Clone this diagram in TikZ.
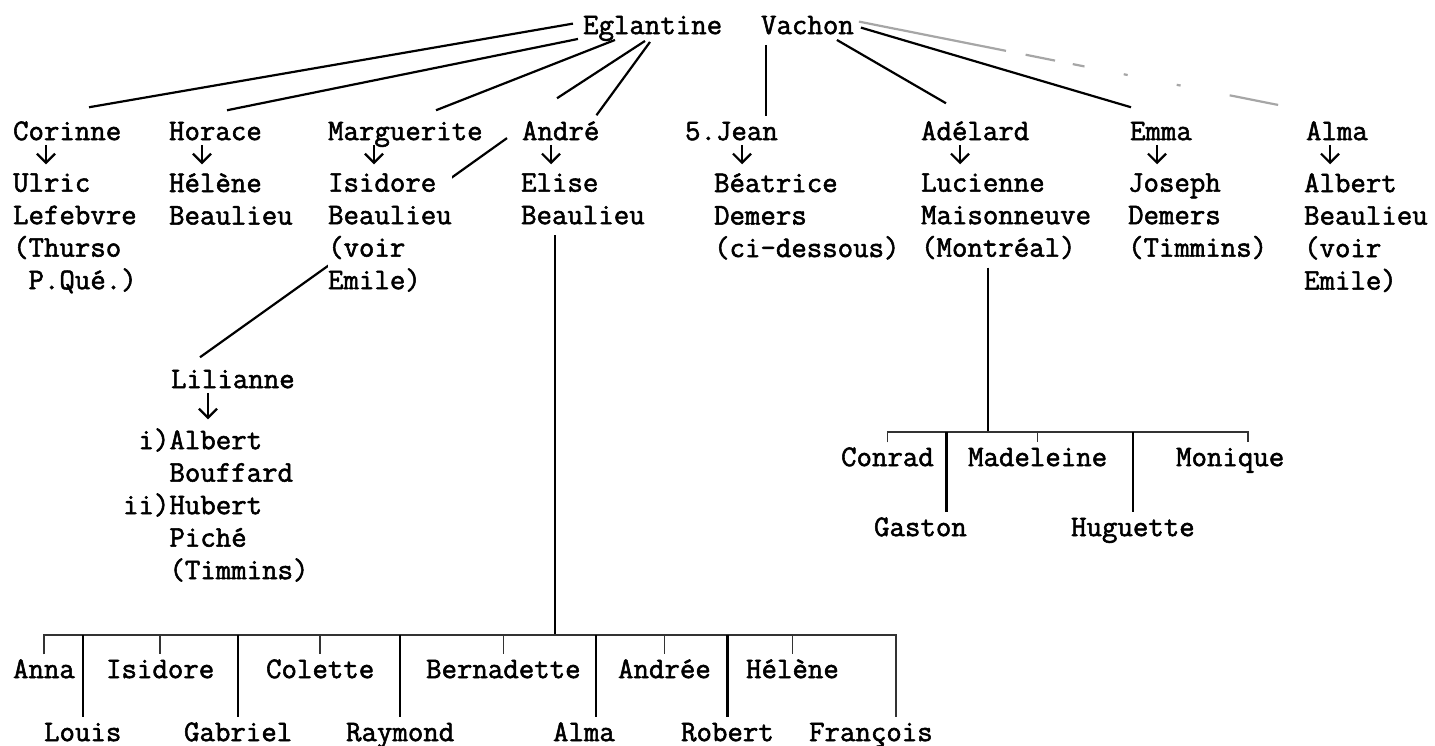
\documentclass[tikz,border=0pt]{standalone}
\usepackage{fontspec}
\usepackage{tikz}
\usetikzlibrary{arrows.meta,backgrounds}
\newfontfamily\typedfont{Latin Modern Mono}[FakeBold=1.8]
\newcommand\chartfont{\typedfont\fontsize{30}{32.5}\selectfont}

\begin{document}
\begin{tikzpicture}[x=1pt,y=-1pt,line width=2.2pt,
      every node/.style={anchor=north west,inner sep=0pt,align=left,font=\chartfont,
        execute at begin node=\strut,execute at end node=\strut},
      wed/.style={-{Straight Barb[length=9pt,width=18pt]},shorten <=-6pt,shorten >=8pt},
      faded/.style={black!35,dash pattern=on 150pt off 20pt on 30pt off 18pt on 12pt off 40pt on 4pt off 50pt on 4pt off 50pt},
      bar/.style={line width=1.6pt,black!80}]

      \useasboundingbox (0,0) rectangle (1435,745);

      \node (eglantine) at (582,10.25) {Eglantine};
      \node (vachon) at (760,10.25) {Vachon};

      \node (corinne) at (12,116.25) {Corinne};
      \node (horace) at (168,116.25) {Horace};
      \node (marguerite) at (327,116.25) {Marguerite};
      \node (andre) at (521,116.25) {André};
      \node (jean) at (684,116.25) {5.Jean};
      \node (adelard) at (920,116.25) {Adélard};
      \node (emma) at (1129,116.25) {Emma};
      \node (alma) at (1305,116.25) {Alma};

      \node (ulric) at (12,172.25) {Ulric\\Lefebvre\\(Thurso\\\phantom{(}P.Qué.)};
      \node (helene) at (168,172.25) {Hélène\\Beaulieu};
      \node[fill=white] (isidore) at (327,172.25) {Isidore\\Beaulieu\\(voir\\Emile)};
      \node (elise) at (520,172.25) {Elise\\Beaulieu};
      \node (beatrice) at (713,172.25) {Béatrice\\Demers\\(ci-dessous)};
      \node (lucienne) at (920,172.25) {Lucienne\\Maisonneuve\\(Montréal)};
      \node (joseph) at (1127,172.25) {Joseph\\Demers\\(Timmins)};
      \node (albert) at (1303,172.25) {Albert\\Beaulieu\\(voir\\Emile)};

      \node (lilianne) at (170,364.25) {Lilianne};
      \node (husbands) at (122,427.25) {\phantom{i}i)Albert\\\phantom{ii)}Bouffard\\ii)Hubert\\\phantom{ii)}Piché\\\phantom{ii)}(Timmins)};

      \node (conrad) at (840,442.25) {Conrad};
      \node (madeleine) at (967,442.25) {Madeleine};
      \node (monique) at (1175,442.25) {Monique};
      \node (gaston) at (873,512.25) {Gaston};
      \node (huguette) at (1070,512.25) {Huguette};
      \coordinate (knotB) at (988,432);
      \coordinate (gastontop) at ([xshift=26pt]gaston.north);

      \node (anna) at (12,654.25) {Anna};
      \node (isidore2) at (105,654.25) {Isidore};
      \node (colette) at (265,654.25) {Colette};
      \node (bernadette) at (425,654.25) {Bernadette};
      \node (andree) at (617,654.25) {Andrée};
      \node (helene2) at (745,654.25) {Hélène};
      \node (louis) at (43,717.25) {Louis};
      \node (gabriel) at (183,717.25) {Gabriel};
      \node (raymond) at (345,717.25) {Raymond};
      \node (alma2) at (552,717.25) {Alma};
      \node (robert) at (680,717.25) {Robert};
      \node (francois) at (808,717.25) {François};
      \coordinate (knotA) at (555,635);
      \coordinate (almatop) at ([xshift=12pt]alma2.north);

      % children of Eglantine Vachon
      \path
      ([xshift=-9pt,yshift=4pt]eglantine.west) edge ([xshift=77pt,yshift=9pt]corinne.north west)
      ([xshift=-4pt,yshift=6pt]eglantine.south west) edge ([xshift=59pt,yshift=6pt]horace.north west)
      ([xshift=33pt,yshift=5pt]eglantine.south west) edge ([xshift=109pt,yshift=6pt]marguerite.north west)
      ([xshift=63pt,yshift=4pt]eglantine.south west) edge ([xshift=36pt,yshift=18pt]andre.north west)
      ([xshift=68pt,yshift=3pt]eglantine.south west) edge ([xshift=-4pt,yshift=1pt]andre.north east)
      ([xshift=6pt]vachon.south west) edge ([xshift=82pt]jean.north west)
      ([xshift=-18pt,yshift=5pt]vachon.south east) edge ([xshift=26pt,yshift=13pt]adelard.north west)
      ([xshift=6pt]vachon.east) edge ([xshift=2pt,yshift=9pt]emma.north west)
      ([xshift=4pt,yshift=6pt]vachon.east) edge[faded,shorten >=58pt] ([xshift=30pt]alma.north west);

      % marriages
      \draw[wed] ([xshift=34pt]corinne.south west) -- ([xshift=34pt]ulric.north west);
      \draw[wed] ([xshift=34pt]horace.south west) -- ([xshift=34pt]helene.north west);
      \draw[wed] ([xshift=47pt]marguerite.south west) -- ([xshift=47pt]isidore.north west);
      \draw[wed] ([xshift=30pt]andre.south west) -- ([xshift=31pt]elise.north west);
      \draw[wed] ([xshift=58pt]jean.south west) -- ([xshift=29pt]beatrice.north west);
      \draw[wed] ([xshift=40pt]adelard.south west) -- ([xshift=40pt]lucienne.north west);
      \draw[wed] ([xshift=28pt]emma.south west) -- ([xshift=30pt]joseph.north west);
      \draw[wed] ([xshift=25pt]alma.south west) -- ([xshift=27pt]albert.north west);
      \draw[wed] ([xshift=38pt]lilianne.south west) -- ([xshift=86pt]husbands.north west);

      \begin{scope}[on background layer]
        \draw[line width=2.2pt] ([xshift=-14pt,yshift=-4.5pt]andre.west) -- ([xshift=30pt,yshift=7pt]lilianne.north west);
      \end{scope}

      % grandchildren
      \draw ([xshift=68pt]lucienne.south west) -- (knotB);
      \draw[bar] (conrad.north) |- (knotB) -| ([xshift=18pt]monique.north);
      \draw[bar] (knotB -| madeleine.north) -- (madeleine.north);
      \draw (knotB -| gastontop) -- (gastontop);
      \draw (knotB -| huguette.north) -- (huguette.north);

      \draw ([xshift=35pt]elise.south west) -- (knotA);
      \draw[bar] (anna.north) |- (knotA) -| ([xshift=25pt]francois.north);
      \draw[bar] (knotA -| isidore2.north) -- (isidore2.north);
      \draw[bar] (knotA -| colette.north) -- (colette.north);
      \draw[bar] (knotA -| bernadette.north) -- (bernadette.north);
      \draw[bar] (knotA -| andree.north) -- (andree.north);
      \draw[bar] (knotA -| helene2.north) -- (helene2.north);
      \draw (knotA -| louis.north) -- (louis.north);
      \draw (knotA -| gabriel.north) -- (gabriel.north);
      \draw (knotA -| raymond.north) -- (raymond.north);
      \draw (knotA -| almatop) -- (almatop);
      \draw (knotA -| robert.north) -- (robert.north);
    \end{tikzpicture}
\end{document}
